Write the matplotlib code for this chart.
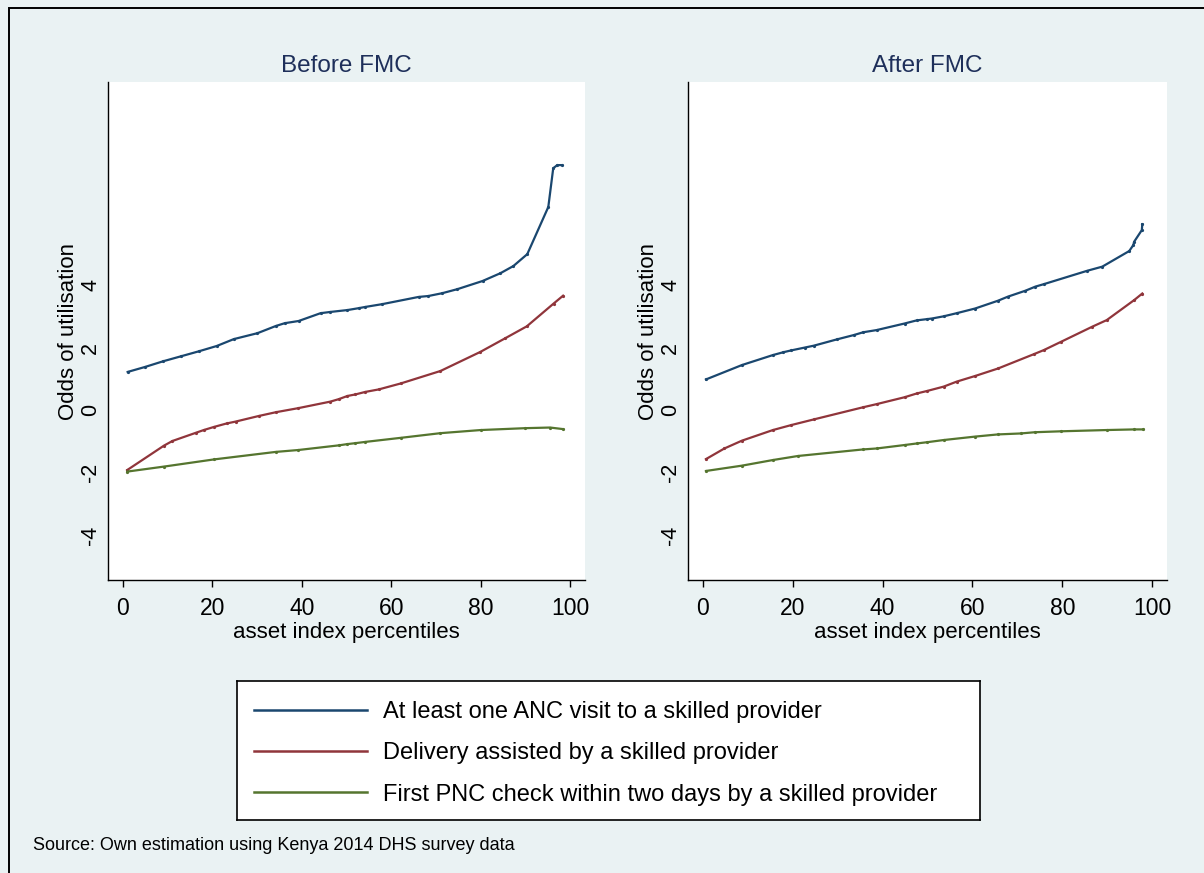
import numpy as np
import matplotlib
matplotlib.use('Agg')
import matplotlib.pyplot as plt
from matplotlib.patches import Rectangle
from matplotlib.lines import Line2D

plt.rcParams['font.family'] = ['Liberation Sans', 'DejaVu Sans']
plt.rcParams['axes.unicode_minus'] = False

# asset index percentile positions and fitted odds, before the free maternity care policy
before_anc_x = [1.1, 5, 9, 13, 17, 21, 24.8, 30.1, 34.2, 36.2, 39.3, 44.2, 46.4, 50.2, 52.7, 54.2,
                58, 66.1, 68.3, 71.4, 74.8, 80.4, 84.4, 87.3, 90.4, 95.1, 96.2, 97.1, 98.2]
before_anc_y = [1.22, 1.38, 1.56, 1.72, 1.88, 2.05, 2.27, 2.46, 2.69, 2.78, 2.85, 3.10, 3.14, 3.20, 3.26, 3.30,
                3.39, 3.62, 3.65, 3.74, 3.87, 4.13, 4.38, 4.61, 4.99, 6.50, 7.74, 7.84, 7.84]

before_del_x = [1.0, 9.2, 11.1, 16.3, 18.1, 20.4, 23.2, 25.2, 30.4, 34.2, 39.2, 46.4, 48.3, 50.2, 52.0,
                54.2, 57.2, 62.1, 71, 79.9, 85.5, 90.3, 96.3, 98.4]
before_del_y = [-1.92, -1.14, -0.99, -0.73, -0.64, -0.54, -0.43, -0.37, -0.19, -0.07, 0.06, 0.27, 0.35, 0.45, 0.50,
                0.58, 0.66, 0.85, 1.25, 1.86, 2.30, 2.68, 3.41, 3.66]

before_pnc_x = [1.0, 9.2, 20.4, 34.2, 39.2, 48.3, 50.2, 52.0, 54.2, 62.1, 71, 80, 90, 95.5, 98.4]
before_pnc_y = [-1.97, -1.81, -1.58, -1.34, -1.28, -1.13, -1.09, -1.06, -1.02, -0.89, -0.74, -0.64, -0.58, -0.56, -0.61]

# same, after the policy
after_anc_x = [0.7, 8.7, 15.6, 17.9, 19.7, 22.7, 24.7, 29.8, 33.6, 35.7, 38.7, 44.9, 47.6, 49.9, 51.0, 53.6,
               56.5, 60.6, 65.7, 67.9, 71.8, 74.0, 75.9, 85.6, 88.9, 94.9, 95.8, 96.0, 97.7, 97.8]
after_anc_y = [0.98, 1.44, 1.76, 1.85, 1.91, 2.00, 2.06, 2.26, 2.40, 2.49, 2.56, 2.77, 2.87, 2.91, 2.93, 3.00,
               3.10, 3.25, 3.50, 3.63, 3.82, 3.95, 4.03, 4.46, 4.59, 5.09, 5.28, 5.39, 5.76, 5.95]

after_del_x = [0.7, 4.8, 8.7, 15.6, 19.7, 24.7, 35.7, 38.7, 44.9, 47.6, 49.9, 53.6, 56.5, 60.6, 65.7,
               73.7, 75.9, 79.8, 86.7, 89.9, 96.0, 97.8]
after_del_y = [-1.57, -1.23, -0.98, -0.64, -0.48, -0.30, 0.09, 0.19, 0.41, 0.53, 0.61, 0.75, 0.91, 1.09, 1.33,
               1.79, 1.92, 2.19, 2.67, 2.88, 3.52, 3.73]

after_pnc_x = [0.7, 8.7, 15.6, 21.2, 35.7, 38.7, 44.9, 47.6, 49.9, 53.6, 60.6, 65.7, 70.7, 73.9, 79.8, 89.9, 96.0, 98.0]
after_pnc_y = [-1.95, -1.78, -1.60, -1.47, -1.26, -1.23, -1.12, -1.07, -1.03, -0.96, -0.85, -0.78, -0.75, -0.71,
               -0.68, -0.64, -0.62, -0.62]

series_labels = ['At least one ANC visit to a skilled provider',
                 'Delivery assisted by a skilled provider',
                 'First PNC check within two days by a skilled provider']
series_colors = ['#1a476f', '#90353b', '#55752f']
panel_titles = ['Before FMC', 'After FMC']
x_ticks = [0, 20, 40, 60, 80, 100]
y_ticks = [-4, -2, 0, 2, 4]

W, H = 1204, 873
bg = '#eaf2f3'
fig = plt.figure(figsize=(W / 100, H / 100), dpi=100, facecolor=bg)

def px_box(x0, y0, x1, y1):
    return [x0 / W, 1 - y1 / H, (x1 - x0) / W, (y1 - y0) / H]

# outer frame (only left and top edges fall inside the image)
fig.patches.append(Rectangle((9 / W, -0.2), 2.0, 1.2 - 8 / H, transform=fig.transFigure,
                             fill=False, edgecolor='black', linewidth=1.4))

panels = [
    [(before_anc_x, before_anc_y), (before_del_x, before_del_y), (before_pnc_x, before_pnc_y)],
    [(after_anc_x, after_anc_y), (after_del_x, after_del_y), (after_pnc_x, after_pnc_y)],
]
boxes = [px_box(108, 82, 585, 580), px_box(688, 82, 1167, 580)]

for i, (data, box) in enumerate(zip(panels, boxes)):
    ax = fig.add_axes(box)
    ax.set_facecolor('white')
    for (xs, ys), c in zip(data, series_colors):
        ax.plot(xs, ys, color=c, lw=1.6, marker='o', markersize=1.3)
    ax.set_xlim(-3.3, 103.3)
    ax.set_ylim(-5.44, 10.5)
    ax.set_xticks(x_ticks)
    ax.set_yticks(y_ticks)
    ax.spines['top'].set_visible(False)
    ax.spines['right'].set_visible(False)
    for s in ['left', 'bottom']:
        ax.spines[s].set_color('black')
        ax.spines[s].set_linewidth(1.0)
    ax.tick_params(axis='x', direction='out', length=5, width=1.0, pad=7, labelsize=16.5)
    ax.tick_params(axis='y', length=0, pad=5, labelsize=15.5, labelrotation=90)
    for lab in ax.get_yticklabels():
        lab.set_va('center')
    ax.set_xlabel('asset index percentiles', fontsize=16, labelpad=2)
    ax.set_ylabel('Odds of utilisation', fontsize=16, labelpad=0.5)
    ax.set_title(panel_titles[i], fontsize=17.5, color='#1e2f5a', pad=7)

# legend box
lax = fig.add_axes(px_box(237, 681, 980, 820))
lax.set_facecolor('white')
lax.set_xticks([])
lax.set_yticks([])
for s in lax.spines.values():
    s.set_color('black')
    s.set_linewidth(1.2)
handles = [Line2D([], [], color=c, lw=1.8) for c in series_colors]
lax.legend(handles, series_labels, loc='center left', bbox_to_anchor=(0.0, 0.48), frameon=False,
           fontsize=17, handlelength=4.8, handletextpad=0.7, labelspacing=0.82, borderaxespad=0.3)

fig.text(33 / W, 1 - 845 / H, 'Source: Own estimation using Kenya 2014 DHS survey data',
         fontsize=13, va='center', ha='left')

fig.savefig('out.png', dpi=100, facecolor=bg)
